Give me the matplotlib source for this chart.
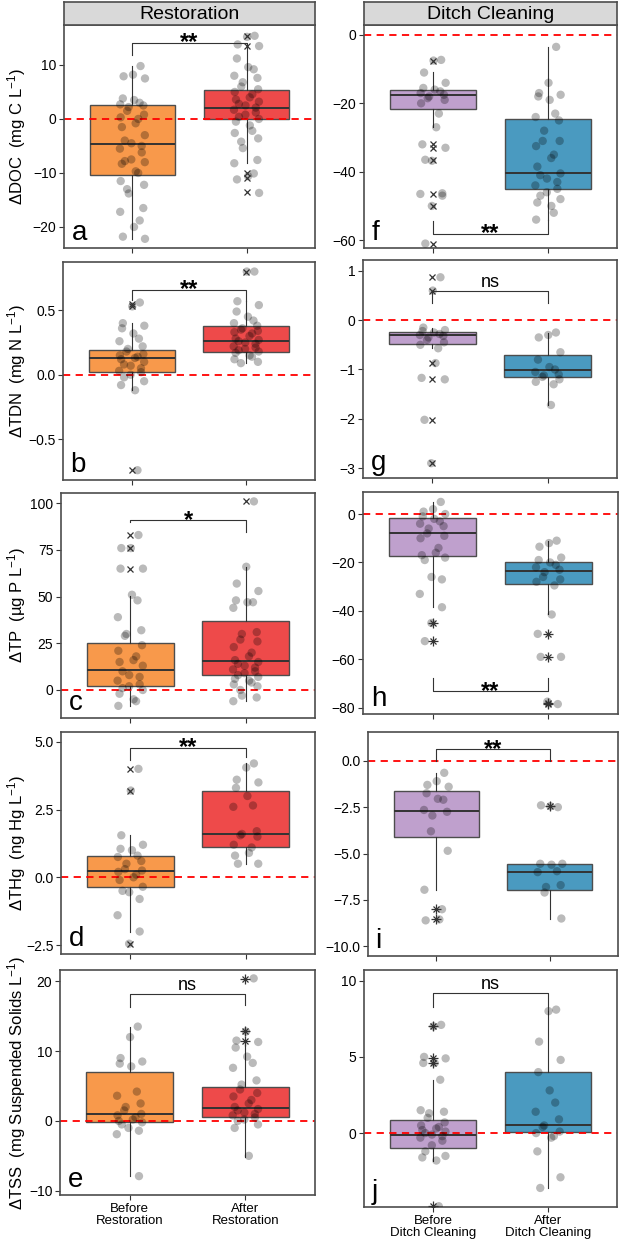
import numpy as np
import matplotlib.pyplot as plt

plt.rcParams['font.family'] = ['Liberation Sans', 'DejaVu Sans']
plt.rcParams['mathtext.default'] = 'regular'

rest_labels = ["Before\nRestoration", "After\nRestoration"]
ditch_labels = ["Before\nDitch Cleaning", "After\nDitch Cleaning"]
rest_colors = ["#F8994B", "#EE4A4A"]
ditch_colors = ["#BFA0CD", "#4A9AC0"]

# box stats are (whisker low, q1, median, q3, whisker high)
# ---- a: DOC, restoration
a_before = [9.8, 8.2, 7.9, 7.5, 3.8, 3.5, 3.0, 2.7, 2.5, 2.2, 1.5, 0.8, 0.3, 0.0, -0.8, -1.5, -3.0, -4.0,
            -4.5, -5.0, -5.5, -6.2, -7.5, -7.8, -8.0, -8.3, -9.7, -10.0, -11.5, -12.2, -13.0, -13.8,
            -16.5, -17.2, -18.8, -20.0, -21.8, -22.2]
a_after = [15.4, 15.2, 13.8, 13.5, 11.2, 9.6, 9.2, 8.0, 7.6, 6.8, 6.0, 5.5, 5.0, 4.6, 4.0, 3.6, 3.2, 2.8,
           2.5, 2.1, 1.7, 1.2, 0.8, 0.4, 0.0, -0.5, -1.2, -2.2, -2.6, -3.6, -4.2, -5.4, -7.6, -8.2,
           -10.1, -10.6, -11.2, -13.7]
a_box_before = [-22.2, -10.4, -4.6, 2.5, 9.8]
a_box_after = [-8.2, -0.1, 2.0, 5.3, 13.5]
a_out_before = []
a_out_after = [15.3, 13.6, -10.0, -11.0, -13.6]

# ---- b: TDN, restoration
b_before = [0.56, 0.53, 0.40, 0.38, 0.36, 0.32, 0.28, 0.26, 0.22, 0.20, 0.18, 0.16, 0.15, 0.14, 0.13,
            0.12, 0.10, 0.08, 0.07, 0.05, 0.03, 0.02, 0.00, -0.02, -0.05, -0.08, -0.12, -0.74]
b_after = [0.80, 0.80, 0.57, 0.54, 0.49, 0.45, 0.42, 0.40, 0.38, 0.36, 0.35, 0.34, 0.33, 0.32, 0.30,
           0.28, 0.27, 0.26, 0.25, 0.24, 0.22, 0.21, 0.20, 0.19, 0.18, 0.17, 0.15, 0.14, 0.12, 0.10, 0.09]
b_box_before = [-0.12, 0.02, 0.13, 0.195, 0.40]
b_box_after = [0.09, 0.18, 0.26, 0.38, 0.57]
b_out_before = [0.55, 0.53, -0.74]
b_out_after = [0.80]

# ---- c: TP, restoration
c_before = [83, 76, 76, 65, 65, 51, 48, 39, 32, 30, 29, 24, 21, 18, 16, 15, 13, 10, 8, 7, 5, 3, 2, 1,
            0, -2, -5, -6, -8.5]
c_after = [101, 66, 57, 53, 48, 47, 47, 44, 31, 30, 27, 26, 23, 20, 18, 16, 15, 14, 13, 12, 11, 10, 9,
           8, 7, 6, 5, 4, 3, 2, 0, -3, -4, -6]
c_box_before = [-8.5, 2.0, 10.8, 25.3, 50.5]
c_box_after = [-6.0, 8.0, 15.5, 37.2, 66.0]
c_out_before = [83, 76, 65]
c_out_after = [101]

# ---- d: THg, restoration
d_before = [4.0, 3.2, 1.55, 1.2, 1.05, 1.0, 0.8, 0.75, 0.6, 0.5, 0.3, 0.25, 0.2, 0.1, 0.0, -0.1, -0.35,
            -0.5, -0.55, -0.8, -1.4, -2.0, -2.45]
d_after = [4.2, 4.05, 3.6, 3.5, 3.3, 3.0, 2.65, 2.6, 1.7, 1.6, 1.55, 1.5, 1.2, 1.1, 0.9, 0.8, 0.5, 0.5]
d_box_before = [-2.0, -0.35, 0.25, 0.80, 1.55]
d_box_after = [0.5, 1.1, 1.6, 3.2, 4.2]
d_out_before = [4.0, 3.2, -2.45]
d_out_after = []

# ---- e: TSS, restoration
e_before = [13.5, 12.0, 9.0, 8.5, 8.2, 7.8, 4.2, 3.6, 2.5, 2.0, 1.5, 1.0, 0.8, 0.5, 0.2, 0.0, -0.2,
            -0.5, -1.0, -1.4, -1.9, -7.9]
e_after = [20.4, 12.8, 11.5, 11.3, 10.5, 9.2, 8.3, 7.6, 5.8, 5.2, 4.5, 4.0, 3.5, 3.0, 2.5, 2.0, 1.7,
           1.5, 1.2, 1.0, 0.8, 0.5, 0.2, 0.0, -0.5, -1.0, -5.0]
e_box_before = [-7.9, -0.2, 1.0, 7.0, 13.5]
e_box_after = [-5.1, 0.5, 1.8, 4.8, 11.0]
e_out_before = []
e_out_after = [20.3, 12.8, 11.5]

# ---- f: DOC, ditch cleaning
f_before = [-7.3, -7.5, -11, -14, -15.5, -16, -16.5, -17, -17.5, -18, -18.5, -19, -20, -23, -27, -32,
            -33, -36.5, -36.8, -46.3, -46.5, -47, -50, -61]
f_after = [-3.5, -14, -17, -17.5, -18, -19, -23, -24, -25, -28, -31, -31, -32.5, -35, -36, -38.5,
           -40.5, -41, -42, -43, -44, -45, -46, -47, -48, -49, -50, -52, -54]
f_box_before = [-27.0, -21.7, -17.7, -16.1, -10.9]
f_box_after = [-54.0, -45.1, -40.5, -24.6, -3.5]
f_out_before = [-7.5, -32.0, -33.0, -36.5, -46.5, -50.0, -61.0]
f_out_after = []

# ---- g: TDN, ditch cleaning
g_before = [0.87, 0.60, -0.15, -0.20, -0.22, -0.25, -0.28, -0.30, -0.32, -0.35, -0.40, -0.45, -0.50,
            -0.57, -0.87, -1.17, -1.20, -2.02, -2.90]
g_after = [-0.25, -0.30, -0.35, -0.65, -0.80, -0.95, -1.00, -1.05, -1.10, -1.12, -1.15, -1.20, -1.25,
           -1.30, -1.72]
g_box_before = [-0.57, -0.48, -0.30, -0.23, -0.15]
g_box_after = [-1.72, -1.15, -1.02, -0.70, -0.25]
g_out_before = [0.87, 0.60, -0.87, -1.20, -2.02, -2.90]
g_out_after = []

# ---- h: TP, ditch cleaning
h_before = [5, 2, 1, 0, -1, -2, -3, -4, -5, -6, -8, -9, -10, -14, -16, -17, -18, -19, -26, -27, -33,
            -38.5, -45, -52.5]
h_after = [-11, -12, -13.5, -18, -19, -20, -21, -22, -23, -24, -26, -27, -28, -29.5, -41.5, -49.5,
           -59, -59, -77.5, -78.5]
h_box_before = [-38.5, -17.5, -8.0, -1.5, 5.0]
h_box_after = [-41.5, -29.0, -23.5, -19.8, -11.0]
h_out_before = [-45.0, -52.5]
h_out_after = [-49.5, -59.0, -78.0, -78.5]

# ---- i: THg, ditch cleaning
i_before = [-0.65, -1.1, -1.3, -1.4, -1.75, -2.05, -2.1, -2.65, -2.75, -2.95, -3.8, -4.85, -6.95,
            -8.0, -8.55, -8.6]
i_after = [-2.5, -2.45, -2.4, -5.55, -5.55, -5.6, -5.95, -6.0, -6.7, -6.8, -7.1, -8.5]
i_box_before = [-6.95, -4.1, -2.7, -1.65, -0.65]
i_box_after = [-8.5, -6.95, -6.0, -5.55, -5.55]
i_out_before = [-8.0, -8.55]
i_out_after = [-2.45]

# ---- j: TSS, ditch cleaning
j_before = [7.1, 7.0, 5.0, 4.9, 4.6, 4.6, 3.5, 1.5, 1.4, 1.3, 1.0, 0.7, 0.5, 0.4, 0.3, 0.2, 0.1, 0.0,
            -0.1, -0.2, -0.3, -0.5, -0.8, -1.2, -1.5, -1.6, -1.8, -4.8]
j_after = [8.1, 8.0, 6.0, 4.8, 4.0, 2.8, 2.0, 1.4, 0.9, 0.5, 0.4, 0.1, 0.0, -0.2, -0.3, -1.2, -2.9, -3.6]
j_box_before = [-1.8, -1.0, -0.15, 0.85, 3.5]
j_box_after = [-3.6, 0.05, 0.55, 4.0, 8.0]
j_out_before = [7.0, 4.9, 4.6, -4.8]
j_out_after = []

# significance brackets: (bar y, left tip y, right tip y)
sig_text = {"a": "**", "b": "**", "c": "*", "d": "**", "e": "ns",
            "f": "**", "g": "ns", "h": "**", "i": "**", "j": "ns"}
brackets = {"a": (14.1, 11.8, 13.5), "b": (0.657, 0.58, 0.57), "c": (90.9, 90.0, 84.8),
            "d": (4.77, 4.32, 4.45), "e": (18.1, 16.3, 16.6), "f": (-58.2, -54.3, -54.0),
            "g": (0.59, 0.35, 0.35), "h": (-73.2, -67.9, -67.9), "i": (0.62, 0.0, 0.0),
            "j": (9.16, 8.3, 8.1)}

ylabels = {"a": "ΔDOC  (mg C L$^{-1}$)", "b": "ΔTDN  (mg N L$^{-1}$)", "c": "ΔTP  (µg P L$^{-1}$)",
           "d": "ΔTHg  (ng Hg L$^{-1}$)", "e": "ΔTSS  (mg Suspended Solids L$^{-1}$)"}

W, H = 623, 1239
fig = plt.figure(figsize=(W / 100, H / 100), dpi=100)

# pixel boxes (left, top, right, bottom) and y ranges
panels = {
    "a": ((64, 25, 315, 248), (-23.9, 17.4), [-20, -10, 0, 10], ["−20", "−10", "0", "10"]),
    "b": ((63, 262, 315, 480), (-0.816, 0.874), [-0.5, 0, 0.5], ["−0.5", "0.0", "0.5"]),
    "c": ((61, 493, 315, 718), (-15, 105.5), [0, 25, 50, 75, 100], ["0", "25", "50", "75", "100"]),
    "d": ((61, 732, 315, 954), (-2.83, 5.36), [-2.5, 0, 2.5, 5], ["−2.5", "0.0", "2.5", "5.0"]),
    "e": ((60, 970, 315, 1195), (-10.6, 21.6), [-10, 0, 10, 20], ["−10", "0", "10", "20"]),
    "f": ((364, 25, 617, 248), (-62.3, 2.9), [-60, -40, -20, 0], ["−60", "−40", "−20", "0"]),
    "g": ((363, 260, 617, 478), (-3.2, 1.22), [-3, -2, -1, 0, 1], ["−3", "−2", "−1", "0", "1"]),
    "h": ((363, 492, 618, 714), (-82.6, 9.1), [-80, -60, -40, -20, 0],
          ["−80", "−60", "−40", "−20", "0"]),
    "i": ((368, 732, 618, 956), (-10.52, 1.55), [-10, -7.5, -5, -2.5, 0],
          ["−10.0", "−7.5", "−5.0", "−2.5", "0.0"]),
    "j": ((364, 970, 617, 1207), (-4.85, 10.7), [0, 5, 10], ["0", "5", "10"]),
}

data = {
    "a": (a_before, a_after, a_box_before, a_box_after, a_out_before, a_out_after),
    "b": (b_before, b_after, b_box_before, b_box_after, b_out_before, b_out_after),
    "c": (c_before, c_after, c_box_before, c_box_after, c_out_before, c_out_after),
    "d": (d_before, d_after, d_box_before, d_box_after, d_out_before, d_out_after),
    "e": (e_before, e_after, e_box_before, e_box_after, e_out_before, e_out_after),
    "f": (f_before, f_after, f_box_before, f_box_after, f_out_before, f_out_after),
    "g": (g_before, g_after, g_box_before, g_box_after, g_out_before, g_out_after),
    "h": (h_before, h_after, h_box_before, h_box_after, h_out_before, h_out_after),
    "i": (i_before, i_after, i_box_before, i_box_after, i_out_before, i_out_after),
    "j": (j_before, j_after, j_box_before, j_box_after, j_out_before, j_out_after),
}
star_outliers = {"e", "h", "i", "j"}
edge = "#4D4D4D"


def px_axes(box):
    l, t, r, b = box
    return fig.add_axes([l / W, 1 - b / H, (r - l) / W, (b - t) / H])


def spread(n):
    # fixed, deterministic horizontal spread of the points
    return 0.11 * np.sin(np.arange(n) * 2.39996 + 0.7)


for key, (box, ylim, ticks, ticklabels) in panels.items():
    ax = px_axes(box)
    left_col = key in "abcde"
    colors = rest_colors if left_col else ditch_colors
    before, after, sb, sa, ob, oa = data[key]

    stats = []
    for s in (sb, sa):
        stats.append({"whislo": s[0], "q1": s[1], "med": s[2], "q3": s[3], "whishi": s[4]})
    bp = ax.bxp(stats, positions=[1, 2], widths=0.75, showfliers=False, showcaps=False,
                patch_artist=True, zorder=2,
                boxprops=dict(edgecolor=edge, linewidth=1.0),
                medianprops=dict(color="#333333", linewidth=1.4),
                whiskerprops=dict(color="#333333", linewidth=0.8))
    for patch, c in zip(bp["boxes"], colors):
        patch.set_facecolor(c)

    ax.axhline(0, color="red", linestyle=(0, (4, 3)), linewidth=1.3, zorder=2.5)

    for pos, vals in ((1, before), (2, after)):
        ax.scatter(pos + spread(len(vals)), vals, s=36, color="black", alpha=0.27,
                   edgecolors="none", zorder=3)

    for pos, outs in ((1, ob), (2, oa)):
        if not outs:
            continue
        xs = [pos] * len(outs)
        ax.plot(xs, outs, "x", color="#333333", markersize=5, markeredgewidth=0.9, zorder=4)
        if key in star_outliers:
            ax.plot(xs, outs, "+", color="#333333", markersize=6.5, markeredgewidth=0.9, zorder=4)

    yb, yl, yr = brackets[key]
    ax.plot([1, 1, 2, 2], [yl, yb, yb, yr], color="#333333", linewidth=0.8, zorder=4)
    if sig_text[key] == "ns":
        ax.text(1.5, yb, "ns", ha="center", va="bottom", fontsize=13)
    else:
        ax.text(1.5, yb, sig_text[key], ha="center", va="center", fontsize=17, fontweight="bold")

    ax.text(0.03, 0.01, key, transform=ax.transAxes, ha="left", va="bottom", fontsize=20)

    ax.set_xlim(0.4, 2.6)
    ax.set_ylim(*ylim)
    ax.set_yticks(ticks)
    ax.set_yticklabels(ticklabels, fontsize=10)
    ax.set_xticks([1, 2])
    if key in ("e", "j"):
        ax.set_xticklabels(rest_labels if left_col else ditch_labels, fontsize=9.5, linespacing=1.0)
    else:
        ax.set_xticklabels(["", ""])
    ax.tick_params(direction="out", length=3.5, width=0.8, color="#333333", pad=2)
    for sp in ax.spines.values():
        sp.set_color(edge)
        sp.set_linewidth(1.2)

    if left_col:
        ax.set_ylabel(ylabels[key], fontsize=12)
        l, t, r, b = box
        ax.yaxis.set_label_coords((28 - l) / (r - l), 0.5)

# facet strips
for (l, r), title in (((64, 315), "Restoration"), ((364, 617), "Ditch Cleaning")):
    sax = px_axes((l, 2, r, 25))
    sax.set_facecolor("#D9D9D9")
    sax.set_xticks([])
    sax.set_yticks([])
    for sp in sax.spines.values():
        sp.set_color(edge)
        sp.set_linewidth(1.2)
    sax.text(0.5, 0.45, title, transform=sax.transAxes, ha="center", va="center", fontsize=14)

fig.savefig("out.png", dpi=100)
